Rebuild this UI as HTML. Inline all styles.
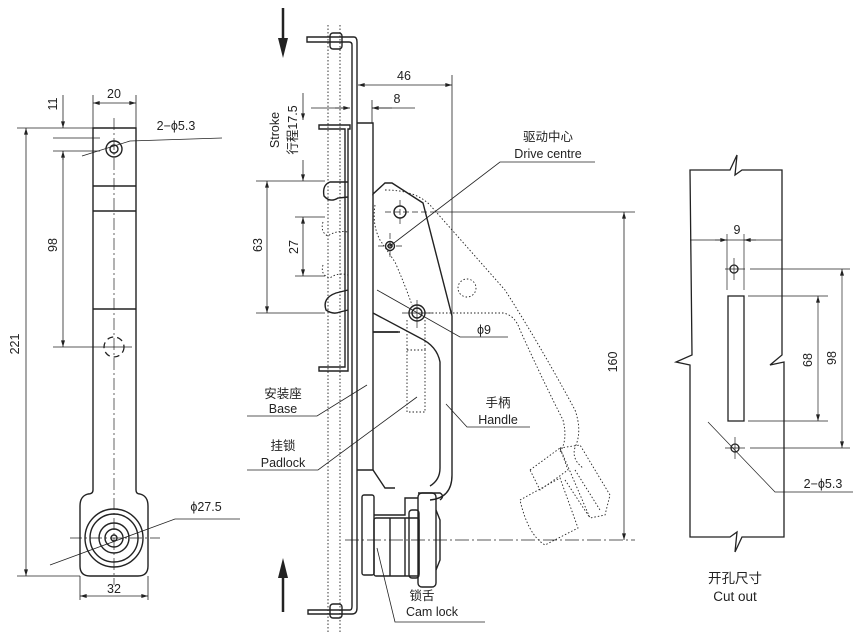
<!DOCTYPE html>
<html><head><meta charset="utf-8"><style>
html,body{margin:0;padding:0;background:#fff;}
svg{display:block}
text{font-family:"Liberation Sans","Noto Sans CJK SC",sans-serif;fill:#222;}
</style></head><body>
<svg width="854" height="640" viewBox="0 0 854 640" xmlns="http://www.w3.org/2000/svg">
<defs>
<marker id="a" viewBox="0 0 10 6" refX="10" refY="3" markerWidth="8" markerHeight="4" orient="auto-start-reverse" markerUnits="userSpaceOnUse"><path d="M0,0 L10,3 L0,6z" fill="#222"/></marker>
</defs>
<g fill="none" stroke="#222" stroke-width="0.8">
<!-- ===== LEFT VIEW ===== -->
<g stroke-width="1.4">
<path d="M93,128 H136 V490 Q136,494 140,494 H140 Q148,496 148,506 V566 Q148,576 138,576 H90 Q80,576 80,566 V506 Q80,496 88,494 Q93,494 93,490 Z"/>
<line x1="93" y1="186" x2="136" y2="186"/>
<line x1="93" y1="211" x2="136" y2="211"/>
<line x1="93" y1="309" x2="136" y2="309"/>
<circle cx="114" cy="149" r="8"/>
<circle cx="114" cy="149" r="4"/>
<circle cx="114" cy="538" r="29"/>
<circle cx="114" cy="538" r="24"/>
<circle cx="114" cy="538" r="15"/>
<circle cx="114" cy="538" r="9"/>
<circle cx="114" cy="538" r="3"/>
</g>
<circle cx="114" cy="347" r="10" stroke-width="1.3" stroke-dasharray="6,4"/>
<line x1="114" y1="118" x2="114" y2="585" stroke-dasharray="12,3,2,3" stroke-width="0.7"/>
<line x1="70" y1="538" x2="160" y2="538" stroke-dasharray="12,3,2,3" stroke-width="0.7"/>
<line x1="100" y1="347" x2="132" y2="347" stroke-width="0.7"/>
<!-- dims left -->
<line x1="17" y1="128" x2="93" y2="128"/>
<line x1="17" y1="576" x2="80" y2="576"/>
<line x1="26" y1="128" x2="26" y2="576" marker-start="url(#a)" marker-end="url(#a)"/>
<line x1="53" y1="347" x2="100" y2="347"/>
<line x1="53" y1="151" x2="100" y2="151"/>
<line x1="53" y1="138" x2="100" y2="138"/>
<line x1="63" y1="151" x2="63" y2="347" marker-start="url(#a)" marker-end="url(#a)"/>
<line x1="63" y1="95" x2="63" y2="128" marker-end="url(#a)"/>
<line x1="63" y1="151" x2="63" y2="160"/>
<line x1="93" y1="95" x2="93" y2="128"/>
<line x1="136" y1="95" x2="136" y2="128"/>
<line x1="93" y1="103" x2="136" y2="103" marker-start="url(#a)" marker-end="url(#a)"/>
<polyline points="82,156 130,141 222,138"/>
<polyline points="50,565 175,519 240,519"/>
<line x1="80" y1="576" x2="80" y2="600"/>
<line x1="148" y1="576" x2="148" y2="600"/>
<line x1="80" y1="596" x2="148" y2="596" marker-start="url(#a)" marker-end="url(#a)"/>

<!-- ===== MIDDLE VIEW ===== -->
<!-- arrows -->
<line x1="283" y1="8" x2="283" y2="40" stroke-width="2.5"/>
<path d="M278,38 L288,38 L283,58 Z" fill="#222" stroke="none"/>
<line x1="283" y1="575" x2="283" y2="612" stroke-width="2.5"/>
<path d="M278,578 L288,578 L283,558 Z" fill="#222" stroke="none"/>
<!-- base plate -->
<g stroke-width="1.4">
<path d="M307,37 H354 Q357,37 357,42 V608 Q357,614 352,614 H308 V610 H350 Q352,610 352,606 V45 Q352,42 349,42 H307 Z"/>
<path d="M319,125 H350 V129 H348 V371 H319 V367 H345 V129 H319 Z"/>
<rect x="330" y="33" width="12" height="16" rx="3"/>
<rect x="330" y="604" width="12" height="14" rx="3"/>
<!-- hooks -->
<path d="M348,182 H330 Q322,185 324,196 Q330,203 338,198 L348,197"/>
<path d="M348,290 L336,293 Q322,298 326,310 Q333,315 340,312 L348,310"/>
<!-- handle strip -->
<path d="M357,123 H373 V194 L385,183 H392 L423,203 L452,316 V475 Q452,498 430,500"/>
<line x1="373" y1="194" x2="373" y2="470"/>
<path d="M373,313 L420,338 Q437,346 440,362 V468 Q440,480 430,486"/>
<path d="M375,332 H400 L373,332"/>
<path d="M373,332 H398"/>
<path d="M357,470 L373,470 L385,488 H395"/>
<!-- cam lock -->
<rect x="362" y="495" width="12" height="80" rx="2"/>
<path d="M374,515 H405 V498 H418"/>
<rect x="374" y="518" width="45" height="58" rx="2"/>
<line x1="390" y1="518" x2="390" y2="576"/>
<line x1="405" y1="518" x2="405" y2="576"/>
<rect x="409" y="510" width="10" height="68" rx="3"/>
<rect x="418" y="493" width="18" height="94" rx="4"/>
<path d="M436,510 L440,520 V560 L436,570"/>
<path d="M418,493 H440 Q445,496 440,500"/>
<circle cx="400" cy="212" r="6"/>
<circle cx="390" cy="246" r="4.5"/>
<circle cx="390" cy="246" r="2"/>
<circle cx="417" cy="313" r="8"/>
<circle cx="417" cy="313" r="5"/>
</g>
<g stroke-width="0.7">
<line x1="385" y1="212" x2="432" y2="212" stroke-dasharray="6,3"/>
<line x1="400" y1="200" x2="400" y2="224" stroke-dasharray="6,3"/>
<line x1="378" y1="246" x2="405" y2="246" stroke-dasharray="6,3"/>
<line x1="390" y1="233" x2="390" y2="258" stroke-dasharray="6,3"/>
<line x1="402" y1="313" x2="432" y2="313"/>
<line x1="417" y1="300" x2="417" y2="328"/>
<line x1="345" y1="540" x2="635" y2="540" stroke-dasharray="14,3,2,3"/>
</g>
<!-- dotted -->
<g stroke-dasharray="1.5,2" stroke-width="0.9">
<line x1="328" y1="25" x2="328" y2="632"/>
<line x1="340" y1="25" x2="340" y2="632"/>
<rect x="407" y="350" width="18" height="62"/>
<line x1="407" y1="320" x2="407" y2="350"/>
<line x1="425" y1="320" x2="425" y2="350"/>
<circle cx="467" cy="288" r="9"/>
<path d="M375,205 Q372,225 380,240 L395,262 Q405,285 412,305"/>
<path d="M385,190 Q415,190 430,205 L505,290 Q540,345 575,410 Q582,430 576,445 Q570,458 583,468"/>
<path d="M425,313 H503 Q515,315 520,330 Q545,385 563,420 Q568,440 560,452"/>
<path d="M323,222 Q320,232 328,236 Q336,230 348,232"/>
<path d="M323,265 Q320,275 330,278 Q338,272 348,275"/>
<path d="M530,470 L560,448 L568,470 L540,490 Z"/>
<path d="M520,500 L560,478 L578,528 L545,545 Q528,535 520,500 Z"/>
<path d="M560,448 L580,445 L610,495 L605,515 L590,518 Z"/>
<path d="M565,480 L590,518"/>
<path d="M575,470 L600,510"/>
</g>
<!-- middle dims -->
<line x1="358" y1="85" x2="452" y2="85" marker-start="url(#a)" marker-end="url(#a)"/>
<line x1="452" y1="75" x2="452" y2="320"/>
<line x1="372" y1="100" x2="372" y2="123"/>
<line x1="311" y1="108" x2="345" y2="108"/>
<line x1="335" y1="108" x2="350" y2="108" marker-end="url(#a)"/>
<line x1="392" y1="108" x2="372" y2="108" marker-end="url(#a)"/>
<line x1="372" y1="108" x2="415" y2="108"/>
<line x1="303" y1="93" x2="303" y2="120" marker-end="url(#a)"/>
<line x1="303" y1="160" x2="303" y2="181" marker-end="url(#a)"/>
<line x1="256" y1="181" x2="325" y2="181"/>
<line x1="256" y1="313" x2="325" y2="313"/>
<line x1="267" y1="181" x2="267" y2="313" marker-start="url(#a)" marker-end="url(#a)"/>
<line x1="295" y1="217" x2="325" y2="217"/>
<line x1="295" y1="276" x2="325" y2="276"/>
<line x1="303" y1="217" x2="303" y2="276" marker-start="url(#a)" marker-end="url(#a)"/>
<line x1="432" y1="212" x2="635" y2="212"/>
<line x1="624" y1="212" x2="624" y2="540" marker-start="url(#a)" marker-end="url(#a)"/>
<!-- leaders -->
<polyline points="390,246 500,162 595,162"/>
<polyline points="377,290 460,337 508,337"/>
<polyline points="367,385 317,416 247,416"/>
<polyline points="417,397 318,470 247,470"/>
<polyline points="446,404 467,427 530,427"/>
<polyline points="377,548 395,622 485,622"/>
<!-- ===== RIGHT VIEW ===== -->
<g stroke-width="1.3">
<path d="M690,170 H730 L737,155 L735,175 L742,170 H782 V355 L770,365 L784,362 V537 H742 L735,552 L737,532 L730,537 H690 V365 L676,362 L692,355 Z"/>
<rect x="728" y="296" width="16" height="125"/>
<circle cx="734" cy="269" r="4"/>
<circle cx="735" cy="448" r="4"/>
</g>
<g stroke-width="0.7">
<line x1="725" y1="269" x2="745" y2="269"/><line x1="734" y1="258" x2="734" y2="280"/>
<line x1="725" y1="448" x2="745" y2="448"/><line x1="735" y1="437" x2="735" y2="459"/>
<line x1="727" y1="234" x2="727" y2="290"/>
<line x1="744" y1="234" x2="744" y2="290"/>
<line x1="690" y1="240" x2="782" y2="240"/>
<line x1="715" y1="240" x2="727" y2="240" marker-end="url(#a)"/>
<line x1="756" y1="240" x2="744" y2="240" marker-end="url(#a)"/>
<line x1="750" y1="269" x2="850" y2="269"/>
<line x1="750" y1="448" x2="850" y2="448"/>
<line x1="748" y1="296" x2="828" y2="296"/>
<line x1="748" y1="421" x2="828" y2="421"/>
<line x1="818" y1="296" x2="818" y2="421" marker-start="url(#a)" marker-end="url(#a)"/>
<line x1="842" y1="269" x2="842" y2="448" marker-start="url(#a)" marker-end="url(#a)"/>
<polyline points="708,422 775,492 853,492"/>
</g>
</g>
<!-- TEXT -->
<g font-size="12.5" text-anchor="middle">
<text x="114" y="98">20</text>
<text x="176" y="130">2−ϕ5.3</text>
<text x="206" y="511">ϕ27.5</text>
<text x="114" y="593">32</text>
<text transform="translate(19,344) rotate(-90)">221</text>
<text transform="translate(57,245) rotate(-90)">98</text>
<text transform="translate(57,104) rotate(-90)">11</text>
<text x="404" y="80">46</text>
<text x="397" y="103">8</text>
<text transform="translate(279,130) rotate(-90)">Stroke</text>
<text transform="translate(297,130) rotate(-90)">行程17.5</text>
<text transform="translate(262,245) rotate(-90)">63</text>
<text transform="translate(298,247) rotate(-90)">27</text>
<text transform="translate(617,362) rotate(-90)">160</text>
<text x="548" y="141">驱动中心</text>
<text x="548" y="158">Drive centre</text>
<text x="484" y="334">ϕ9</text>
<text x="283" y="398">安装座</text>
<text x="283" y="413">Base</text>
<text x="283" y="450">挂锁</text>
<text x="283" y="467">Padlock</text>
<text x="498" y="407">手柄</text>
<text x="498" y="424">Handle</text>
<text x="422" y="600">锁舌</text>
<text x="432" y="616">Cam lock</text>
<text x="737" y="234">9</text>
<text transform="translate(812,360) rotate(-90)">68</text>
<text transform="translate(836,358) rotate(-90)">98</text>
<text x="823" y="488">2−ϕ5.3</text>
<text x="735" y="583" font-size="13.5">开孔尺寸</text>
<text x="735" y="601" font-size="13.5">Cut out</text>
</g>
</svg>
</body></html>
